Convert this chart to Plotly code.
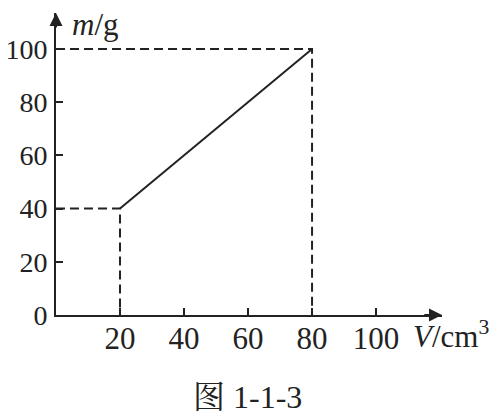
import plotly.graph_objects as go

# Data
v_line = [20, 80]
m_line = [40, 100]
x_ticks = [20, 40, 60, 80, 100]
y_ticks = [0, 20, 40, 60, 80, 100]
x_tick_labels = ["20", "40", "60", "80", "100"]
y_tick_labels = ["0", "20", "40", "60", "80", "100"]
guide_points = [(20, 40), (80, 100)]

INK = "#222222"
FONT = "Liberation Serif, Times New Roman, serif"
FS = 31
XMAX = 120.6
YMAX = 113.5

fig = go.Figure()

# dashed guide lines
for gx, gy in guide_points:
    fig.add_trace(go.Scatter(x=[0, gx, gx], y=[gy, gy, 0], mode="lines",
                             line=dict(color=INK, width=2, dash="9px,5px"),
                             hoverinfo="skip", showlegend=False))

# main line
fig.add_trace(go.Scatter(x=v_line, y=m_line, mode="lines",
                         line=dict(color=INK, width=2), showlegend=False))

# page body has an 8px margin, so the figure is 8px smaller than the window
fig.update_layout(
    width=489, height=409,
    margin=dict(l=48, r=55, t=5, b=102, autoexpand=False),
    plot_bgcolor="white", paper_bgcolor="white",
    font=dict(family=FONT, color=INK, size=FS),
    xaxis=dict(range=[0, XMAX], tickvals=x_ticks, ticktext=x_tick_labels,
               ticks="inside", ticklen=7, tickwidth=2, tickcolor=INK,
               showline=True, linecolor=INK, linewidth=2, automargin=False,
               showgrid=False, zeroline=False, ticklabelstandoff=-5,
               tickfont=dict(size=FS, family=FONT, color=INK)),
    yaxis=dict(range=[0, YMAX], tickvals=y_ticks, ticktext=y_tick_labels,
               ticks="inside", ticklen=7, tickwidth=2, tickcolor=INK,
               showline=True, linecolor=INK, linewidth=2, automargin=False,
               showgrid=False, zeroline=False, ticklabelstandoff=1,
               tickfont=dict(size=28, family=FONT, color=INK)),
)

# arrowheads on axes
fig.add_annotation(x=XMAX, y=0, ax=XMAX - 6, ay=0, xref="x", yref="y",
                   axref="x", ayref="y", showarrow=True, arrowhead=2,
                   arrowsize=1.3, arrowwidth=2, arrowcolor=INK, text="")
fig.add_annotation(x=0, y=YMAX, ax=0, ay=YMAX - 6, xref="x", yref="y",
                   axref="x", ayref="y", showarrow=True, arrowhead=2,
                   arrowsize=1.3, arrowwidth=2, arrowcolor=INK, text="")

# axis titles
fig.add_annotation(x=0.036, y=0.962, xref="paper", yref="paper",
                   xanchor="left", yanchor="middle", showarrow=False,
                   text="<i>m</i>/g", font=dict(size=FS, family=FONT, color=INK))
fig.add_annotation(x=0.92, y=-0.066, xref="paper", yref="paper",
                   xanchor="left", yanchor="middle", showarrow=False,
                   text="<i>V</i>/cm<sup>3</sup>", font=dict(size=FS, family=FONT, color=INK))

# caption
fig.add_annotation(x=0.497, y=-0.272, xref="paper", yref="paper",
                   xanchor="center", yanchor="middle", showarrow=False,
                   text="图 1-1-3",
                   font=dict(size=32, family="Liberation Serif, Noto Serif CJK SC, Noto Sans CJK SC, serif", color=INK))

fig.write_html("out.html")
